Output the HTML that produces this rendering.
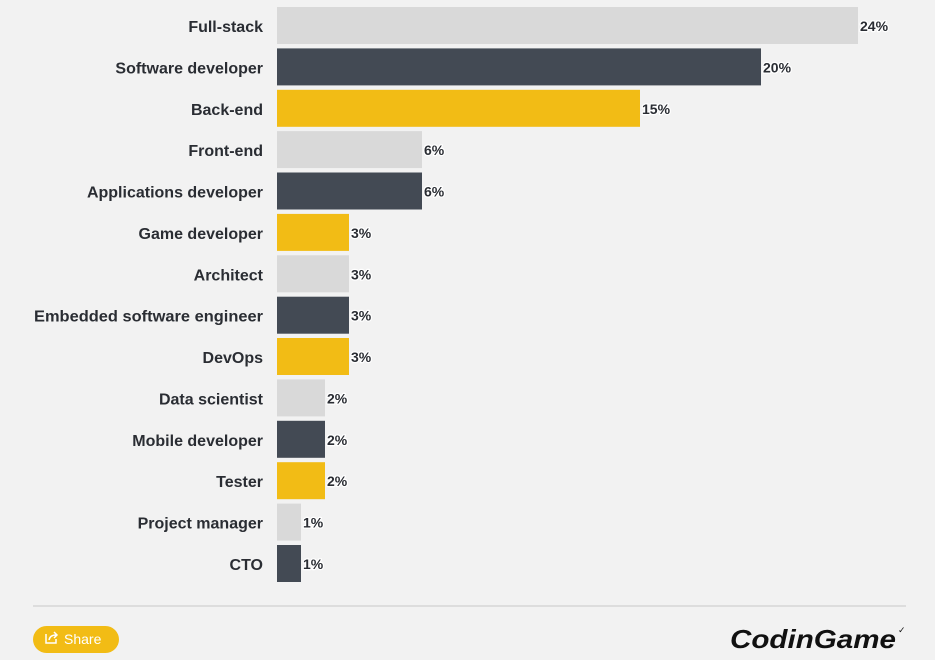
<!DOCTYPE html>
<html><head><meta charset="utf-8"><style>
html,body{margin:0;padding:0;background:#f2f2f2;}
svg{display:block;font-family:"Liberation Sans",sans-serif;}
</style></head><body>
<svg width="935" height="660" viewBox="0 0 935 660" xmlns="http://www.w3.org/2000/svg">
<rect width="935" height="660" fill="#f2f2f2"/>
<g font-size="16" font-weight="bold" fill="#2a2d33" text-anchor="end">
<text x="263" y="32">Full-stack</text>
<text x="263" y="73.4">Software developer</text>
<text x="263" y="114.8">Back-end</text>
<text x="263" y="156.1">Front-end</text>
<text x="263" y="197.5">Applications developer</text>
<text x="263" y="238.9">Game developer</text>
<text x="263" y="280.3">Architect</text>
<text x="263" y="321.7" textLength="229" lengthAdjust="spacingAndGlyphs">Embedded software engineer</text>
<text x="263" y="363">DevOps</text>
<text x="263" y="404.4">Data scientist</text>
<text x="263" y="445.8">Mobile developer</text>
<text x="263" y="487.2">Tester</text>
<text x="263" y="528.6">Project manager</text>
<text x="263" y="570">CTO</text>
</g>
<g>
<rect x="277" y="7" width="581" height="37" fill="#d9d9d9"/>
<rect x="277" y="48.4" width="484" height="37" fill="#434a54"/>
<rect x="277" y="89.8" width="363" height="37" fill="#f2bc15"/>
<rect x="277" y="131.1" width="145" height="37" fill="#d9d9d9"/>
<rect x="277" y="172.5" width="145" height="37" fill="#434a54"/>
<rect x="277" y="213.9" width="72" height="37" fill="#f2bc15"/>
<rect x="277" y="255.3" width="72" height="37" fill="#d9d9d9"/>
<rect x="277" y="296.7" width="72" height="37" fill="#434a54"/>
<rect x="277" y="338" width="72" height="37" fill="#f2bc15"/>
<rect x="277" y="379.4" width="48" height="37" fill="#d9d9d9"/>
<rect x="277" y="420.8" width="48" height="37" fill="#434a54"/>
<rect x="277" y="462.2" width="48" height="37" fill="#f2bc15"/>
<rect x="277" y="503.6" width="24" height="37" fill="#d9d9d9"/>
<rect x="277" y="545" width="24" height="37" fill="#434a54"/>
</g>
<g font-size="14" font-weight="bold" fill="#2a2d33" stroke="#ffffff" stroke-width="2.5" paint-order="stroke" stroke-linejoin="round">
<text x="860" y="31">24%</text>
<text x="763" y="72.4">20%</text>
<text x="642" y="113.8">15%</text>
<text x="424" y="155.1">6%</text>
<text x="424" y="196.5">6%</text>
<text x="351" y="237.9">3%</text>
<text x="351" y="279.3">3%</text>
<text x="351" y="320.7">3%</text>
<text x="351" y="362">3%</text>
<text x="327" y="403.4">2%</text>
<text x="327" y="444.8">2%</text>
<text x="327" y="486.2">2%</text>
<text x="303" y="527.6">1%</text>
<text x="303" y="569">1%</text>
</g>
<line x1="33" y1="606" x2="906" y2="606" stroke="#d6d6d6" stroke-width="1.5"/>
<rect x="33" y="626" width="86" height="27" rx="13.5" fill="#f2bc15"/>
<g stroke="#fff" stroke-width="1.5" fill="none">
<path d="M46 634 v9 h10 v-4"/>
<path d="M49 640 q1 -5 7 -5 M54 632 l3 3 l-3 3"/>
</g>
<text x="64" y="644" font-size="14" fill="#fff">Share</text>
<text x="730" y="648" font-size="26" font-weight="bold" font-style="italic" fill="#111" textLength="166" lengthAdjust="spacingAndGlyphs">CodinGame</text>
<text x="898" y="633" font-size="9" fill="#111">✓</text>
</svg>
</body></html>
